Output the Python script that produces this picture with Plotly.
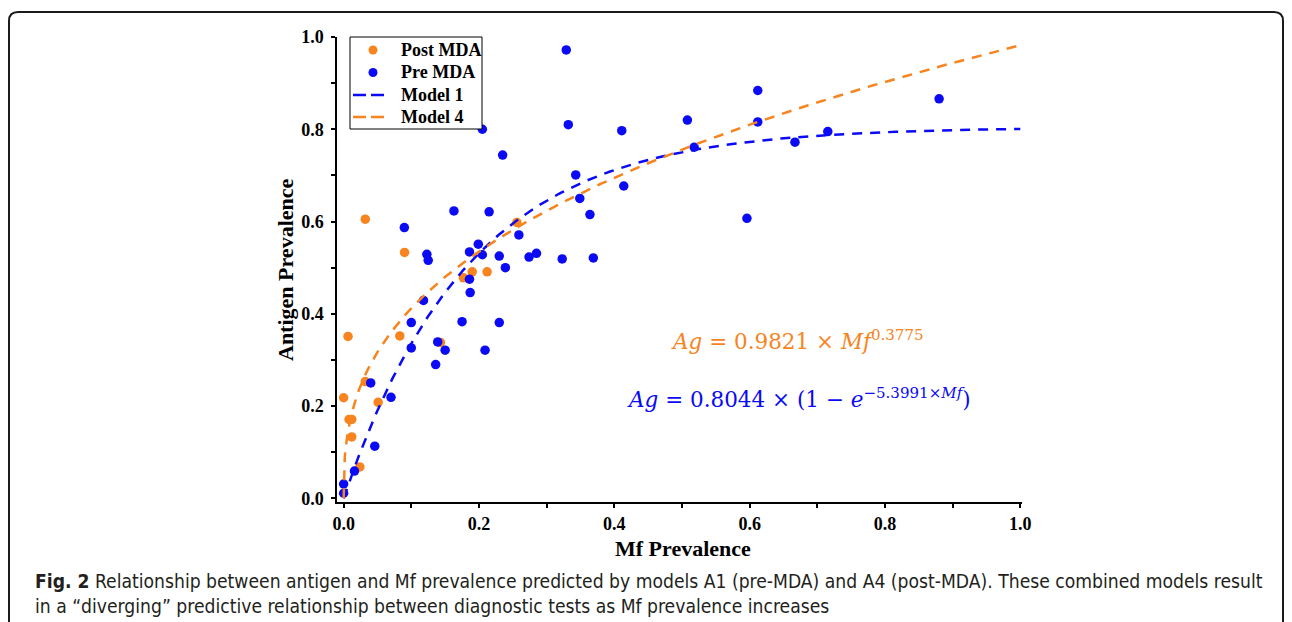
import numpy as np
import plotly.graph_objects as go

# ---------------- data ----------------
post_x = [0.032, 0.090, 0.0065, 0.083, 0.0, 0.008, 0.012, 0.012, 0.032, 0.051, 0.024,
          0.177, 0.190, 0.212, 0.143, 0.256]
post_y = [0.605, 0.533, 0.351, 0.352, 0.218, 0.171, 0.171, 0.133, 0.253, 0.208, 0.068,
          0.478, 0.491, 0.491, 0.338, 0.598]

pre_x = [0.163, 0.215, 0.0897, 0.259, 0.199, 0.186, 0.205, 0.123, 0.125, 0.230, 0.239,
         0.274, 0.285, 0.323, 0.369, 0.186, 0.187, 0.118, 0.100, 0.175, 0.230, 0.100,
         0.139, 0.150, 0.209, 0.136, 0.040, 0.070, 0.046, 0.016, 0.0, 0.0,
         0.329, 0.332, 0.411, 0.508, 0.612, 0.612, 0.667, 0.518, 0.343, 0.414, 0.349,
         0.364, 0.596, 0.205, 0.235, 0.880, 0.7155]
pre_y = [0.623, 0.621, 0.587, 0.571, 0.551, 0.534, 0.528, 0.529, 0.516, 0.525, 0.500,
         0.523, 0.531, 0.519, 0.521, 0.475, 0.446, 0.429, 0.381, 0.383, 0.381, 0.326,
         0.339, 0.321, 0.321, 0.290, 0.250, 0.219, 0.113, 0.059, 0.031, 0.011,
         0.972, 0.810, 0.797, 0.820, 0.884, 0.816, 0.772, 0.761, 0.701, 0.677, 0.650,
         0.615, 0.607, 0.800, 0.744, 0.866, 0.795]

# model coefficients as printed on the chart
m1_a, m1_b = 0.8044, 5.3991     # Model 1: Ag = a*(1-exp(-b*Mf))
m4_a, m4_b = 0.9821, 0.3775     # Model 4: Ag = a*Mf^b
curve_x = np.concatenate([np.linspace(0, 0.02, 60), np.linspace(0.02, 1.0, 300)[1:]])
m1_y = m1_a * (1 - np.exp(-m1_b * curve_x))
m4_y = m4_a * np.power(curve_x, m4_b)

x_ticks = [0.0, 0.2, 0.4, 0.6, 0.8, 1.0]
y_ticks = [0.0, 0.2, 0.4, 0.6, 0.8, 1.0]
legend_names = ["Post MDA", "Pre MDA", "Model 1", "Model 4"]
x_title = "Mf Prevalence"
y_title = "Antigen Prevalence"

BLUE = "#0A0AF5"
ORANGE = "#F7841E"

# ---------------- layout geometry (page pixels; body has an 8px margin) ----------------
OFF = 8
W, H = 1284, 614
L, R, T, B = 337, 1022, 37, 502   # plot area in page pixels


def px(x):
    return (x - L) / (R - L)


def py(y):
    return (B - y) / (B - T)


fig = go.Figure()
fig.add_trace(go.Scatter(x=post_x, y=post_y, mode="markers", name=legend_names[0],
                         showlegend=False,
                         marker=dict(color=ORANGE, size=9.5, line=dict(width=0))))
fig.add_trace(go.Scatter(x=pre_x, y=pre_y, mode="markers", name=legend_names[1],
                         showlegend=False,
                         marker=dict(color=BLUE, size=9.5, line=dict(width=0))))
fig.add_trace(go.Scatter(x=curve_x, y=m1_y, mode="lines", name=legend_names[2],
                         showlegend=False,
                         line=dict(color=BLUE, width=2.5, dash="10px,8px")))
fig.add_trace(go.Scatter(x=curve_x, y=m4_y, mode="lines", name=legend_names[3],
                         showlegend=False,
                         line=dict(color=ORANGE, width=2.5, dash="10px,8px")))

serif = "Liberation Serif"
axis_common = dict(
    showgrid=False, zeroline=False, showline=True, linecolor="black", linewidth=1.5,
    ticks="outside", ticklen=4, tickwidth=1.5, tickcolor="black",
    tickfont=dict(family=serif, size=18, color="black", weight="bold"),
    minor=dict(ticks="outside", ticklen=4, tickwidth=1.5, tickcolor="black", dtick=0.1),
)

fig.update_layout(
    width=W, height=H,
    margin=dict(l=L - OFF, r=W - (R - OFF), t=T - OFF, b=H - (B - OFF)),
    paper_bgcolor="white", plot_bgcolor="white",
    xaxis=dict(range=[-0.0098, 1.0025], tickvals=x_ticks, tickformat=".1f",
               ticklabelstandoff=1, **axis_common),
    yaxis=dict(range=[-0.008, 1.0], tickvals=y_ticks, tickformat=".1f",
               ticklabelstandoff=4, **axis_common),
    showlegend=False,
)

# axis titles
fig.add_annotation(x=px(683), y=py(548), xref="paper", yref="paper", showarrow=False,
                   xanchor="center", yanchor="middle", text=f"<b>{x_title}</b>",
                   font=dict(family=serif, size=22, color="black"))
fig.add_annotation(x=px(285), y=py(270), xref="paper", yref="paper", showarrow=False,
                   xanchor="center", yanchor="middle", textangle=-90,
                   text=f"<b>{y_title}</b>",
                   font=dict(family=serif, size=22, color="black"))

# ---------------- legend (drawn) ----------------
fig.add_shape(type="rect", xref="paper", yref="paper",
              x0=px(350), x1=px(482), y0=py(37), y1=py(129),
              line=dict(color="black", width=1), fillcolor="white", layer="above")
leg_rows = [50, 72.5, 95, 117]
for yy, col in [(leg_rows[0], ORANGE), (leg_rows[1], BLUE)]:
    fig.add_shape(type="circle", xref="paper", yref="paper",
                  x0=px(373 - 4.5), x1=px(373 + 4.5), y0=py(yy + 4.5), y1=py(yy - 4.5),
                  line=dict(width=0), fillcolor=col, layer="above")
for yy, col in [(leg_rows[2], BLUE), (leg_rows[3], ORANGE)]:
    for a, b in [(353, 366), (371, 384)]:
        fig.add_shape(type="line", xref="paper", yref="paper",
                      x0=px(a), x1=px(b), y0=py(yy), y1=py(yy),
                      line=dict(color=col, width=2.5), layer="above")
for yy, name in zip(leg_rows, legend_names):
    fig.add_annotation(x=px(399), y=py(yy), xref="paper", yref="paper", showarrow=False,
                       xanchor="left", yanchor="middle", text=f"<b>{name}</b>",
                       font=dict(family=serif, size=18, color="black"))

# ---------------- equations ----------------
eq_font = "DejaVu Serif"
fig.add_annotation(x=px(797), y=py(340), xref="paper", yref="paper", showarrow=False,
                   xanchor="center", yanchor="middle",
                   text="<i>Ag</i> = 0.9821 × <i>Mf</i><sup>0.3775</sup>",
                   font=dict(family=eq_font, size=21.5, color=ORANGE))
fig.add_annotation(x=px(799), y=py(398), xref="paper", yref="paper", showarrow=False,
                   xanchor="center", yanchor="middle",
                   text="<i>Ag</i> = 0.8044 × (1 − <i>e</i><sup>−5.3991×<i>Mf</i></sup>)",
                   font=dict(family=eq_font, size=21.5, color=BLUE))

# ---------------- caption ----------------
cap_font = "DejaVu Sans Condensed, sans-serif"
fig.add_annotation(x=px(33), y=py(581), xref="paper", yref="paper", showarrow=False,
                   xanchor="left", yanchor="middle", align="left",
                   text="<b>Fig. 2</b> Relationship between antigen and Mf prevalence predicted by models A1 (pre-MDA) and A4 (post-MDA). These combined models result",
                   font=dict(family=cap_font, size=19.15, color="#231F20"))
fig.add_annotation(x=px(33), y=py(606), xref="paper", yref="paper", showarrow=False,
                   xanchor="left", yanchor="middle", align="left",
                   text="in a “diverging” predictive relationship between diagnostic tests as Mf prevalence increases",
                   font=dict(family=cap_font, size=19.15, color="#231F20"))

# rounded frame around the figure
r = 9
x0, x1, y0, y1 = 9, 1283, 12, 640
path = (f"M {px(x0)},{py(y1)} L {px(x0)},{py(y0 + r)} "
        f"Q {px(x0)},{py(y0)} {px(x0 + r)},{py(y0)} "
        f"L {px(x1 - r)},{py(y0)} Q {px(x1)},{py(y0)} {px(x1)},{py(y0 + r)} "
        f"L {px(x1)},{py(y1)}")
fig.add_shape(type="path", path=path, xref="paper", yref="paper",
              line=dict(color="#1a1a1a", width=2))

fig.write_html("out.html")
